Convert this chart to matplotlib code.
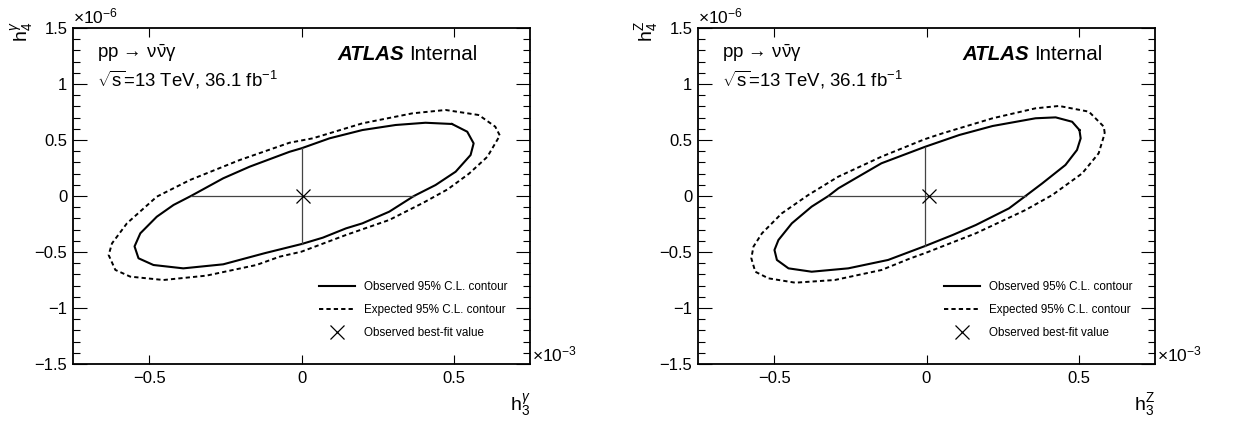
import matplotlib
matplotlib.use("Agg")
import matplotlib.pyplot as plt
from matplotlib.ticker import MultipleLocator, FixedLocator

plt.rcParams['font.family'] = ['Liberation Sans', 'DejaVu Sans']
plt.rcParams['mathtext.fontset'] = 'custom'
plt.rcParams['mathtext.rm'] = 'Liberation Sans'
plt.rcParams['mathtext.it'] = 'Liberation Sans:italic'
plt.rcParams['mathtext.bf'] = 'Liberation Sans:bold'

# values in units of 1e-3 (h3) and 1e-6 (h4)
# photon coupling panel
obs_g_x = [0.494, 0.407, 0.309, 0.200, 0.092, 0.000, -0.039, -0.170, -0.257, -0.363,
           -0.420, -0.475, -0.529, -0.548, -0.535, -0.486, -0.388, -0.257, -0.120, 0.000,
           0.070, 0.146, 0.200, 0.288, 0.369, 0.440, 0.506, 0.555, 0.565, 0.544, 0.494]
obs_g_y = [0.643, 0.654, 0.634, 0.589, 0.515, 0.426, 0.395, 0.262, 0.158, 0.000,
           -0.080, -0.185, -0.333, -0.450, -0.556, -0.616, -0.646, -0.610, -0.510, -0.429,
           -0.372, -0.289, -0.244, -0.140, 0.000, 0.098, 0.217, 0.366, 0.470, 0.574, 0.643]
exp_g_x = [0.582, 0.473, 0.364, 0.200, 0.037, -0.039, -0.203, -0.366, -0.475, -0.573,
           -0.622, -0.633, -0.611, -0.562, -0.453, -0.312, -0.148, -0.072, 0.000, 0.146,
           0.288, 0.400, 0.480, 0.550, 0.610, 0.651, 0.636, 0.582]
exp_g_y = [0.723, 0.768, 0.738, 0.649, 0.515, 0.476, 0.321, 0.143, -0.006, -0.244,
           -0.423, -0.527, -0.660, -0.720, -0.750, -0.711, -0.616, -0.542, -0.497, -0.348,
           -0.214, -0.060, 0.060, 0.200, 0.350, 0.540, 0.619, 0.723]
best_g = (0.005, 0.0)
vline_g = (0.0, -0.429, 0.426)
hline_g = (0.0, -0.363, 0.369)

# Z coupling panel
obs_z_x = [0.502, 0.478, 0.424, 0.358, 0.217, 0.108, -0.004, -0.148, -0.224, -0.289,
           -0.322, -0.377, -0.442, -0.486, -0.499, -0.491, -0.453, -0.377, -0.257, -0.126,
           -0.004, 0.086, 0.162, 0.271, 0.325, 0.380, 0.456, 0.494, 0.506, 0.502]
obs_z_y = [0.589, 0.663, 0.702, 0.694, 0.625, 0.545, 0.440, 0.292, 0.172, 0.069,
           0.000, -0.095, -0.244, -0.393, -0.482, -0.571, -0.646, -0.676, -0.646, -0.571,
           -0.446, -0.348, -0.259, -0.110, 0.000, 0.113, 0.277, 0.411, 0.515, 0.589]
exp_z_x = [0.585, 0.582, 0.533, 0.435, 0.358, 0.217, 0.053, -0.007, -0.148, -0.290,
           -0.388, -0.475, -0.540, -0.568, -0.575, -0.562, -0.519, -0.431, -0.301, -0.148,
           -0.056, 0.000, 0.162, 0.325, 0.413, 0.511, 0.565, 0.585]
exp_z_y = [0.560, 0.619, 0.753, 0.804, 0.783, 0.694, 0.560, 0.506, 0.351, 0.172,
           0.009, -0.155, -0.333, -0.452, -0.556, -0.676, -0.735, -0.774, -0.750, -0.661,
           -0.560, -0.505, -0.333, -0.125, 0.009, 0.202, 0.381, 0.560]
best_z = (0.007, 0.0)
vline_z = (-0.004, -0.446, 0.440)
hline_z = (0.0, -0.322, 0.325)

panels = [
    dict(obs=(obs_g_x, obs_g_y), exp=(exp_g_x, exp_g_y), best=best_g,
         vline=vline_g, hline=hline_g, xlab=r'$\mathrm{h}_{3}^{\gamma}$',
         ylab=r'$\mathrm{h}_{4}^{\gamma}$'),
    dict(obs=(obs_z_x, obs_z_y), exp=(exp_z_x, exp_z_y), best=best_z,
         vline=vline_z, hline=hline_z, xlab=r'$\mathrm{h}_{3}^{\mathrm{Z}}$',
         ylab=r'$\mathrm{h}_{4}^{\mathrm{Z}}$'),
]

x_ticks = [-0.5, 0, 0.5]
x_ticklabels = ['\u22120.5', '0', '0.5']
y_ticks = [-1.5, -1, -0.5, 0, 0.5, 1, 1.5]
y_ticklabels = ['\u22121.5', '\u22121', '\u22120.5', '0', '0.5', '1', '1.5']

W, H = 1238, 421
fig = plt.figure(figsize=(W / 100, H / 100), dpi=100)

for i, p in enumerate(panels):
    left = 73 if i == 0 else 698
    ax = fig.add_axes([left / W, (H - 364) / H, 457 / W, 336 / H])
    ax.set_xlim(-0.75, 0.75)
    ax.set_ylim(-1.5, 1.5)

    ax.plot(p['exp'][0], p['exp'][1], color='black', lw=1.4, ls=(0, (2.2, 1.6)),
            label='Expected 95% C.L. contour')
    ax.plot(p['obs'][0], p['obs'][1], color='black', lw=1.5,
            label='Observed 95% C.L. contour')
    vx, v0, v1 = p['vline']
    hy, h0, h1 = p['hline']
    ax.plot([vx, vx], [v0, v1], color='#444444', lw=0.9)
    ax.plot([h0, h1], [hy, hy], color='#444444', lw=0.9)
    ax.plot([p['best'][0]], [p['best'][1]], ls='none', marker='x', ms=10, mew=0.9,
            color='black', label='Observed best-fit value')

    handles, labels = ax.get_legend_handles_labels()
    order = [1, 0, 2]
    ax.legend([handles[k] for k in order], [labels[k] for k in order],
              loc='upper left', bbox_to_anchor=((319 - 73) / 457, (364 - 281) / 336),
              frameon=False, fontsize=8.4, handlelength=3.1, handletextpad=0.75,
              labelspacing=0.95, borderpad=0, borderaxespad=0)

    ax.xaxis.set_major_locator(FixedLocator(x_ticks))
    ax.set_xticklabels(x_ticklabels)
    ax.yaxis.set_major_locator(FixedLocator(y_ticks))
    ax.set_yticklabels(y_ticklabels)
    ax.yaxis.set_minor_locator(MultipleLocator(0.1))
    ax.tick_params(axis='both', which='both', direction='in', top=True, right=True,
                   labelsize=12, width=0.8, colors='black')
    ax.tick_params(axis='y', which='major', length=10, pad=4)
    ax.tick_params(axis='y', which='minor', length=5)
    ax.tick_params(axis='x', which='major', length=6.5, pad=5)
    for s in ax.spines.values():
        s.set_linewidth(1.3)

    ax.text(0.0, 1.005, r'$\times$10$^{-6}$', transform=ax.transAxes,
            ha='left', va='bottom', fontsize=12.5)
    ax.text(1.005, 0.0, r'$\times$10$^{-3}$', transform=ax.transAxes,
            ha='left', va='bottom', fontsize=12.5)

    ax.text((97 - 73) / 457, (364 - 53) / 336,
            'pp \u2192 ' + r'$\mathrm{\nu\bar{\nu}\gamma}$',
            transform=ax.transAxes, ha='left', va='center', fontsize=13.4)
    ax.text((97 - 73) / 457, (364 - 80) / 336,
            r'$\sqrt{\mathrm{s}}$=13 TeV, 36.1 fb$^{\mathrm{-1}}$',
            transform=ax.transAxes, ha='left', va='center', fontsize=13.4)
    ax.text((337 - 73) / 457, (364 - 55) / 336, 'ATLAS', transform=ax.transAxes,
            ha='left', va='center', fontsize=14.8, fontweight='bold', fontstyle='italic')
    ax.text((477 - 73) / 457, (364 - 55) / 336, 'Internal', transform=ax.transAxes,
            ha='right', va='center', fontsize=14.8)

    fig.text((left + 457) / W, 1 - 405 / H, p['xlab'], ha='right', va='center', fontsize=14)
    fig.text((left - 51) / W, 1 - 32 / H, p['ylab'], ha='center', va='center',
             fontsize=14, rotation=90)

fig.savefig('out.png', dpi=100)
